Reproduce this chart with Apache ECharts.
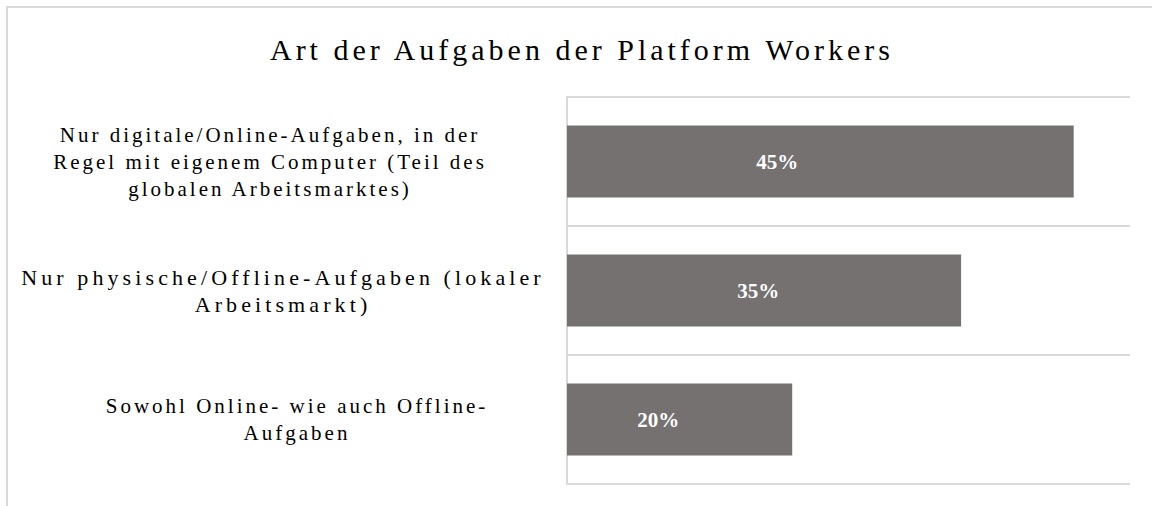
<!DOCTYPE html>
<html>
<head>
<meta charset="utf-8">
<script src="https://cdn.jsdelivr.net/npm/echarts@6/dist/echarts.min.js"></script>
<style>
  html, body { margin: 0; padding: 0; background: #fff; }
  #chart { width: 1152px; height: 506px; }
</style>
</head>
<body>
<div id="chart"></div>
<script>
// Werte
const categories = [
  'Nur digitale/Online-Aufgaben, in der\nRegel mit eigenem Computer (Teil des\nglobalen Arbeitsmarktes)',
  'Nur physische/Offline-Aufgaben (lokaler\nArbeitsmarkt)',
  'Sowohl Online- wie auch Offline-\nAufgaben'
];
const shares = [45, 35, 20];
const titleText = 'Art der Aufgaben der Platform Workers';

// nur Layout: Rechtsabstand, Schriftgrad und Zeichenabstand der Kategorietexte,
// Lage der Prozentwerte im Balken
const labelPad = [54, 28, 0];
const labelSize = [21, 22, 21];
const labelSpacing = [3, 4.1, 3];
const valuePos = ['41.5%', '48.5%', '40.5%'];

const serif = '"Liberation Serif", "Times New Roman", serif';
const grey = '#d9d9d9';

const chart = echarts.init(document.getElementById('chart'), null, { renderer: 'svg' });

chart.setOption({
  animation: false,
  title: {
    text: titleText,
    left: 577,
    top: 29,
    textAlign: 'center',
    textStyle: { fontFamily: serif, fontSize: 30, fontWeight: 'normal', color: '#000' }
  },
  graphic: [{
    type: 'rect',
    shape: { x: 7, y: 7, width: 1400, height: 800 },
    style: { fill: 'none', stroke: grey, lineWidth: 2 },
    silent: true
  }],
  grid: { left: 567, right: 22, top: 97, bottom: 22, outerBoundsMode: 'none' },
  xAxis: {
    type: 'value',
    min: 0,
    max: 50,
    show: false
  },
  yAxis: {
    type: 'category',
    inverse: true,
    data: categories.map((c, i) => ({
      value: c,
      textStyle: {
        align: 'center',
        verticalAlign: 'middle',
        fontSize: labelSize[i],
        padding: [0, labelPad[i], 0, 0]
      }
    })),
    axisTick: { show: false },
    axisLine: { show: true, lineStyle: { color: grey, width: 2 } },
    splitLine: { show: true, lineStyle: { color: grey, width: 2 } },
    axisLabel: {
      margin: 270,
      align: 'center',
      fontFamily: serif,
      fontSize: 21,
      lineHeight: 27,
      color: '#000'
    }
  },
  series: [{
    type: 'bar',
    barCategoryGap: '44%',
    itemStyle: { color: '#767171' },
    data: shares.map((v, i) => ({
      value: v,
      label: { position: [valuePos[i], '50%'] }
    })),
    label: {
      show: true,
      align: 'center',
      verticalAlign: 'middle',
      formatter: '{c}%',
      fontFamily: serif,
      fontSize: 21,
      fontWeight: 'bold',
      color: '#fff'
    }
  }]
});

// Zeichenabstand wie im Original (SVG-Text, per CSS)
const lineSpacing = {};
categories.forEach((c, i) => {
  c.split('\n').forEach(line => { lineSpacing[line] = labelSpacing[i]; });
});
function spaceLetters() {
  document.querySelectorAll('#chart text').forEach(t => {
    const s = t.textContent;
    if (s.indexOf('%') >= 0) t.style.letterSpacing = '0px';
    else if (s === titleText) t.style.letterSpacing = '4px';
    else if (lineSpacing[s] != null) t.style.letterSpacing = lineSpacing[s] + 'px';
  });
}
chart.on('finished', spaceLetters);
spaceLetters();
setTimeout(spaceLetters, 50);
</script>
</body>
</html>
